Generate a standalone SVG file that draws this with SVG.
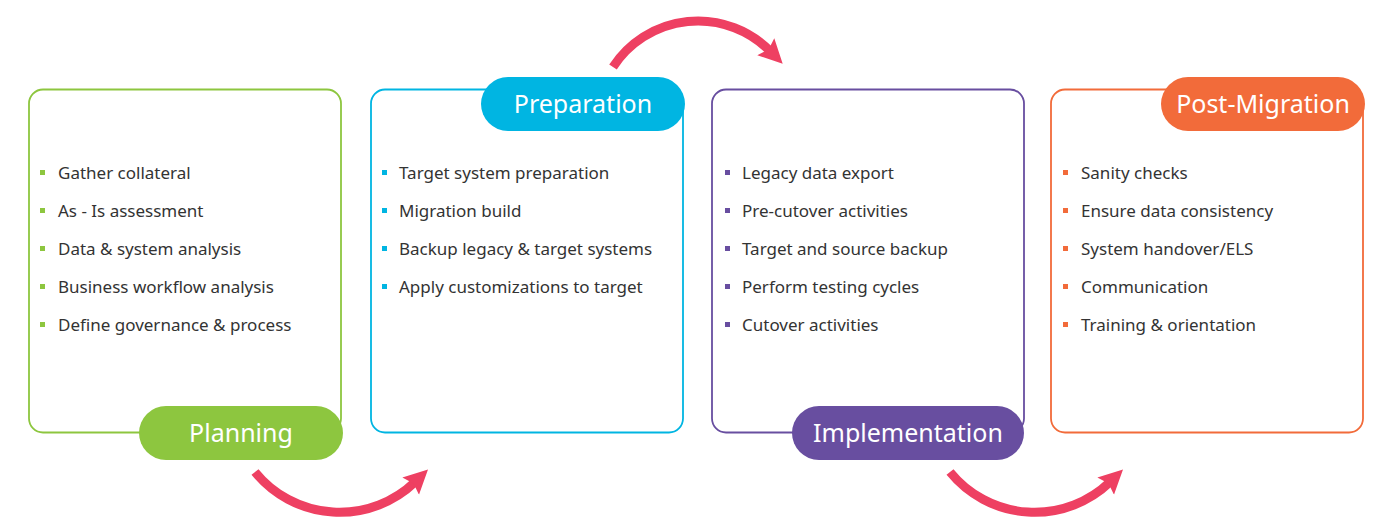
<svg xmlns="http://www.w3.org/2000/svg" width="1376" height="522" viewBox="0 0 1376 522">
<style>
.box{fill:#fff;stroke-width:1.8}
.item{font-family:"Noto Sans","Open Sans",sans-serif;font-size:17px;fill:#333}
.title{font-family:"Noto Sans","Open Sans",sans-serif;font-size:25px;fill:#fff;text-anchor:middle}
.arc{fill:none;stroke:#EE4062;stroke-width:9}
</style>
<defs>
<marker id="ah" markerUnits="userSpaceOnUse" markerWidth="26" markerHeight="26" viewBox="0 0 26 26" refX="6" refY="13" orient="auto">
<path d="M0,1 L24,13 L0,25 L4,13 Z" fill="#EE4062"/>
</marker>
</defs>
<g id="planning">
<rect class="box" x="29" y="89.5" width="312" height="343" rx="14" stroke="#8DC63F"/>
<rect x="139" y="406" width="204" height="54" rx="27" fill="#8DC63F"/>
<text class="title" x="241" y="442">Planning</text>
<g fill="#8DC63F"><rect x="40" y="170" width="5" height="5"/><rect x="40" y="208" width="5" height="5"/><rect x="40" y="246" width="5" height="5"/><rect x="40" y="284" width="5" height="5"/><rect x="40" y="322" width="5" height="5"/></g>
<text class="item" x="58" y="179">Gather collateral</text>
<text class="item" x="58" y="217">As - Is assessment</text>
<text class="item" x="58" y="255">Data &amp; system analysis</text>
<text class="item" x="58" y="293">Business workflow analysis</text>
<text class="item" x="58" y="331">Define governance &amp; process</text>
</g>
<g id="preparation">
<rect class="box" x="371" y="89.5" width="312" height="343" rx="14" stroke="#00B5E2"/>
<rect x="481" y="77" width="204" height="54" rx="27" fill="#00B5E2"/>
<text class="title" x="583" y="113">Preparation</text>
<g fill="#00B5E2"><rect x="382" y="170" width="5" height="5"/><rect x="382" y="208" width="5" height="5"/><rect x="382" y="246" width="5" height="5"/><rect x="382" y="284" width="5" height="5"/></g>
<text class="item" x="399" y="179">Target system preparation</text>
<text class="item" x="399" y="217">Migration build</text>
<text class="item" x="399" y="255">Backup legacy &amp; target systems</text>
<text class="item" x="399" y="293">Apply customizations to target</text>
</g>
<g id="implementation">
<rect class="box" x="712" y="89.5" width="312" height="343" rx="14" stroke="#684EA0"/>
<rect x="792" y="406" width="232" height="54" rx="27" fill="#684EA0"/>
<text class="title" x="908" y="442">Implementation</text>
<g fill="#684EA0"><rect x="725" y="170" width="5" height="5"/><rect x="725" y="208" width="5" height="5"/><rect x="725" y="246" width="5" height="5"/><rect x="725" y="284" width="5" height="5"/><rect x="725" y="322" width="5" height="5"/></g>
<text class="item" x="742" y="179">Legacy data export</text>
<text class="item" x="742" y="217">Pre-cutover activities</text>
<text class="item" x="742" y="255">Target and source backup</text>
<text class="item" x="742" y="293">Perform testing cycles</text>
<text class="item" x="742" y="331">Cutover activities</text>
</g>
<g id="post-migration">
<rect class="box" x="1051" y="89.5" width="312" height="343" rx="14" stroke="#F26B3A"/>
<rect x="1161" y="77" width="204" height="54" rx="27" fill="#F26B3A"/>
<text class="title" x="1263" y="113">Post-Migration</text>
<g fill="#F26B3A"><rect x="1063" y="170" width="5" height="5"/><rect x="1063" y="208" width="5" height="5"/><rect x="1063" y="246" width="5" height="5"/><rect x="1063" y="284" width="5" height="5"/><rect x="1063" y="322" width="5" height="5"/></g>
<text class="item" x="1081" y="179">Sanity checks</text>
<text class="item" x="1081" y="217">Ensure data consistency</text>
<text class="item" x="1081" y="255">System handover/ELS</text>
<text class="item" x="1081" y="293">Communication</text>
<text class="item" x="1081" y="331">Training &amp; orientation</text>
</g>
<g id="connectors">
<path class="arc" d="M255,472 A109,109 0 0 0 415,482" marker-end="url(#ah)"/>
<path class="arc" d="M613,67 A101.5,101.5 0 0 1 770,51" marker-end="url(#ah)"/>
<path class="arc" d="M950,472 A109,109 0 0 0 1110,482" marker-end="url(#ah)"/>
</g>
</svg>
